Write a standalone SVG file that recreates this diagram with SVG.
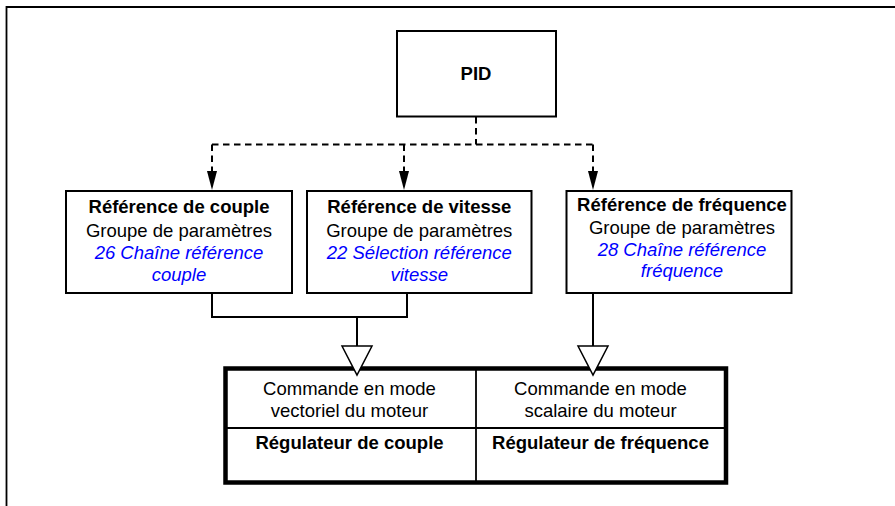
<svg xmlns="http://www.w3.org/2000/svg" width="895" height="506" viewBox="0 0 895 506">
<style>
text{font-family:"Liberation Sans",Arial,sans-serif;font-size:18.5px;fill:#000;text-anchor:middle}
.b{font-weight:bold}
.l{fill:#0000ff;font-style:italic}
.box{fill:#fff;stroke:#000;stroke-width:2}
.c{fill:none;stroke:#000;stroke-width:2}
.d{fill:none;stroke:#000;stroke-width:2;stroke-dasharray:6.5,4.5}
.open{fill:#fff;stroke:#000;stroke-width:1.5;stroke-linejoin:miter}
</style>
<defs>
<marker id="ah" markerUnits="userSpaceOnUse" viewBox="0 0 10 19" refX="5" refY="19" markerWidth="10" markerHeight="19" orient="auto-start-reverse">
<path d="M0,0 L10,0 L5,19 Z" fill="#000"/>
</marker>
</defs>
<rect width="895" height="506" fill="#fff"/>
<g id="frame">
<path d="M6.5,506 V7 H895" fill="none" stroke="#000" stroke-width="1.8"/>
</g>
<g id="connectors">
<path class="d" d="M476,117 V144.5"/>
<path class="d" d="M212,144.5 H593"/>
<path d="M212,144.5 V171" class="d"/>
<path d="M404,144.5 V171" class="d"/>
<path d="M593,144.5 V171" class="d"/>
<path d="M207,171 H217 L212,190 Z" fill="#000"/>
<path d="M399,171 H409 L404,190 Z" fill="#000"/>
<path d="M588,171 H598 L593,190 Z" fill="#000"/>
<path class="c" d="M212,293 V317 H407 V293"/>
<path class="c" d="M357,317 V346"/>
<path class="c" d="M593,293 V346"/>
</g>
<g id="pid">
<rect class="box" x="397" y="31" width="159" height="85.5"/>
<text class="b" x="476" y="80">PID</text>
</g>
<g id="ref-couple">
<rect class="box" x="66" y="191" width="226" height="102"/>
<text class="b" x="179" y="213">Référence de couple</text>
<text x="179" y="236.5">Groupe de paramètres</text>
<text class="l" x="179" y="258.5">26 Chaîne référence</text>
<text class="l" x="179" y="280.5">couple</text>
</g>
<g id="ref-vitesse">
<rect class="box" x="307" y="191" width="224.5" height="102"/>
<text class="b" x="419.3" y="213">Référence de vitesse</text>
<text x="419.3" y="236.5">Groupe de paramètres</text>
<text class="l" x="419.3" y="258.5">22 Sélection référence</text>
<text class="l" x="419.3" y="280.5">vitesse</text>
</g>
<g id="ref-frequence">
<rect class="box" x="566.5" y="191" width="225" height="102"/>
<text class="b" x="682" y="211">Référence de fréquence</text>
<text x="682" y="233.5">Groupe de paramètres</text>
<text class="l" x="682" y="255.5">28 Chaîne référence</text>
<text class="l" x="682" y="277">fréquence</text>
</g>
<g id="regulateurs">
<rect x="225.5" y="368.5" width="500.5" height="114" fill="#fff" stroke="#000" stroke-width="4.5"/>
<path d="M476,368.5 V482.5 M225.5,428 H726" fill="none" stroke="#000" stroke-width="1.8"/>
<text x="349.5" y="395">Commande en mode</text>
<text x="349.5" y="416.5">vectoriel du moteur</text>
<text class="b" x="349.5" y="449">Régulateur de couple</text>
<text x="600.5" y="395">Commande en mode</text>
<text x="600.5" y="416.5">scalaire du moteur</text>
<text class="b" x="600.5" y="449">Régulateur de fréquence</text>
</g>
<g id="inputs">
<path class="open" d="M342,346 H372 L357,375 Z"/>
<path class="open" d="M578,346 H608 L593,375 Z"/>
</g>
</svg>
